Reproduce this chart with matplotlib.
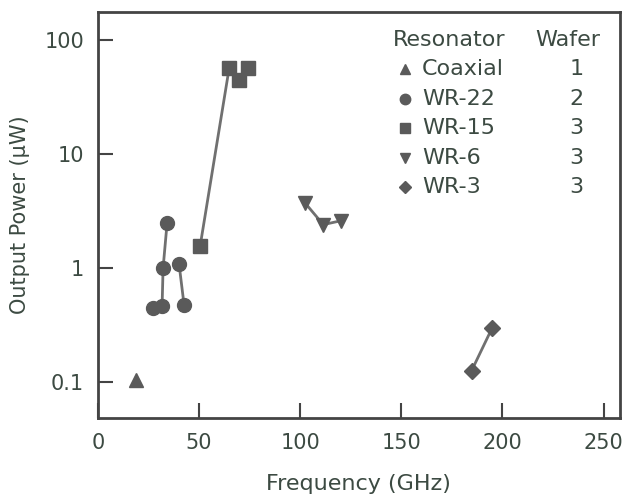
import matplotlib
matplotlib.use("Agg")
import matplotlib.pyplot as plt

plt.rcParams['font.family'] = ['DejaVu Sans']

# data
coax_f = [18.8]
coax_p = [0.105]
wr22a_f = [27.2, 31.7, 32.2, 34.2]
wr22a_p = [0.45, 0.46, 1.0, 2.5]
wr22b_f = [40.1, 42.6]
wr22b_p = [1.08, 0.47]
wr15_f = [50.5, 64.9, 69.8, 74.3]
wr15_p = [1.55, 57, 45, 57]
wr6_f = [102.5, 111.4, 120.3]
wr6_p = [3.7, 2.4, 2.6]
wr3_f = [184.7, 195.0]
wr3_p = [0.125, 0.30]

resonators = ["Coaxial", "WR-22", "WR-15", "WR-6", "WR-3"]
wafers = ["1", "2", "3", "3", "3"]
markers = ["^", "o", "s", "v", "D"]

xticks = [0, 50, 100, 150, 200, 250]
yticks = [0.1, 1, 10, 100]
ylabels = ["0.1", "1", "10", "100"]

ink = "#444444"
mk = "#5a5a5a"
txt = "#3c4a42"

fig = plt.figure(figsize=(6.26, 5.01), dpi=100)
ax = fig.add_axes([0.1565, 0.1657, 0.8335, 0.8103])

def series(f, p, m, ms=10):
    ax.plot(f, p, color="#707070", lw=2, marker=m, ms=ms,
            mfc=mk, mec=mk, zorder=3)

series(coax_f, coax_p, "^")
series(wr22a_f, wr22a_p, "o")
series(wr22b_f, wr22b_p, "o")
series(wr15_f, wr15_p, "s")
series(wr6_f, wr6_p, "v")
series(wr3_f, wr3_p, "D", ms=8)

ax.set_yscale("log")
ax.set_xlim(0, 258)
ax.set_ylim(0.0483, 176)
ax.set_xticks(xticks)
ax.set_yticks(yticks)
ax.set_yticklabels(ylabels)
ax.minorticks_off()
ax.tick_params(direction="in", length=11, width=1.5, color=ink,
               labelsize=15, labelcolor=txt, pad=10)
ax.tick_params(axis="x", pad=11)
for s in ax.spines.values():
    s.set_color(ink)
    s.set_linewidth(2)

ax.set_xlabel("Frequency (GHz)", fontsize=16, color=txt, labelpad=15)
ax.set_ylabel("Output Power (\u03bcW)", fontsize=15, color=txt, labelpad=10)

# legend table, in axes fractions
def ax_xy(px, py):
    return (px - 98) / 522, (418 - py) / 406

x0, y0 = ax_xy(393, 40)
ax.text(x0, y0, "Resonator", transform=ax.transAxes, fontsize=16,
        color=txt, va="center", ha="left")
x0, y0 = ax_xy(568, 40)
ax.text(x0, y0, "Wafer", transform=ax.transAxes, fontsize=16,
        color=txt, va="center", ha="center")
for i, (r, w, m) in enumerate(zip(resonators, wafers, markers)):
    py = 69 + 29.5 * i
    mx, my = ax_xy(405, py)
    ax.plot([mx], [my], marker=m, ms=7.5 if m != "D" else 6.5, color=mk,
            transform=ax.transAxes, clip_on=False)
    tx, ty = ax_xy(422, py)
    ax.text(tx, ty, r, transform=ax.transAxes, fontsize=16, color=txt,
            va="center", ha="left")
    wx, wy = ax_xy(577, py)
    ax.text(wx, wy, w, transform=ax.transAxes, fontsize=16, color=txt,
            va="center", ha="center")

fig.savefig("out.png", dpi=100)
